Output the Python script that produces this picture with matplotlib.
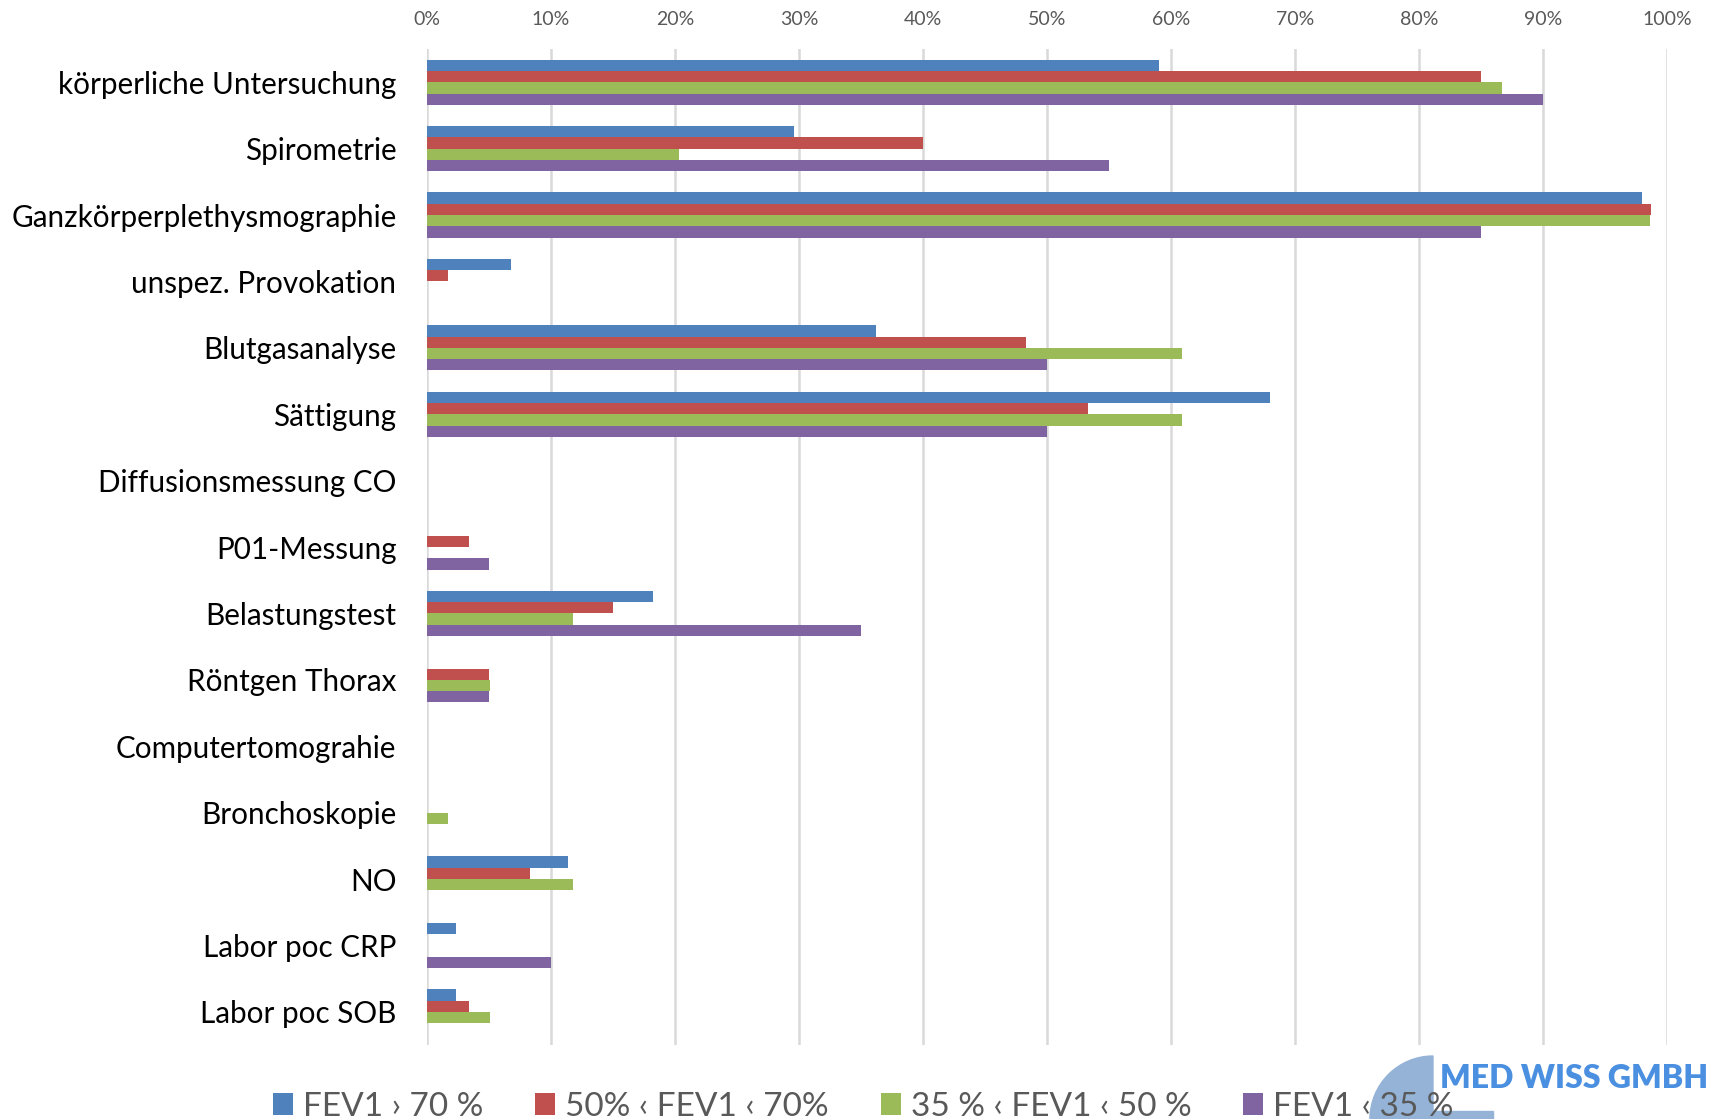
import matplotlib.pyplot as plt
import numpy as np
from matplotlib.patches import Wedge, Rectangle

# Untersuchungen (categories, top to bottom)
categories = [
    'körperliche Untersuchung', 'Spirometrie', 'Ganzkörperplethysmographie',
    'unspez. Provokation', 'Blutgasanalyse', 'Sättigung',
    'Diffusionsmessung CO', 'P01-Messung', 'Belastungstest',
    'Röntgen Thorax', 'Computertomograhie', 'Bronchoskopie', 'NO',
    'Labor poc CRP', 'Labor poc SOB',
]

# share of patients per FEV1 group (%)
fev_gt70 = [59.0, 29.6, 98.0, 6.8, 36.2, 68.0, 0, 0, 18.2, 0, 0, 0, 11.4, 2.3, 2.3]
fev_50_70 = [85.0, 40.0, 98.7, 1.7, 48.3, 53.3, 0, 3.4, 15.0, 5.0, 0, 0, 8.3, 0, 3.4]
fev_35_50 = [86.7, 20.3, 98.6, 0, 60.9, 60.9, 0, 0, 11.8, 5.1, 0, 1.7, 11.8, 0, 5.1]
fev_lt35 = [90.0, 55.0, 85.0, 0, 50.0, 50.0, 0, 5.0, 35.0, 5.0, 0, 0, 0, 10.0, 0]

series_labels = ['FEV1 \u203a 70 %', '50% \u2039 FEV1 \u2039 70%',
                 '35 % \u2039 FEV1 \u2039 50 %', 'FEV1 \u2039 35 %']
colors = ['#4F81BD', '#C0504D', '#9BBB59', '#8064A2']
xticks = np.arange(0, 101, 10)

plt.rcParams['font.family'] = ['Lato', 'DejaVu Sans']

fig = plt.figure(figsize=(17.13, 11.19), dpi=100)
ax = fig.add_axes([0.2493, 0.0661, 0.7238, 0.8901])

y = np.arange(len(categories))
h = 0.17
data = [fev_gt70, fev_50_70, fev_35_50, fev_lt35]
bars = []
for i, (vals, col, lab) in enumerate(zip(data, colors, series_labels)):
    b = ax.barh(y + (i - 1.5) * h, vals, height=h, color=col, label=lab,
                zorder=3, linewidth=0)
    bars.append(b)

ax.set_xlim(0, 100)
ax.set_ylim(len(categories) - 0.5, -0.5)
ax.set_xticks(xticks)
ax.set_xticklabels([f'{t}%' for t in xticks], fontsize=14, color='#595959')
ax.set_yticks(y)
ax.set_yticklabels(categories, fontsize=21.3, color='black')
ax.tick_params(axis='x', top=True, labeltop=True, bottom=False,
               labelbottom=False, length=0, pad=15)
ax.tick_params(axis='y', length=0, pad=22)
ax.grid(axis='x', color='#D9D9D9', linewidth=1.8, zorder=0)
ax.set_axisbelow(True)
for s in ax.spines.values():
    s.set_visible(False)

# logo shape behind the legend (coordinates in inches, 100 px per inch)
tr = fig.dpi_scale_trans
logo_blue = '#95B3D7'
fig.patches.append(Wedge((14.33, 0), 0.63, 90, 180, color=logo_blue,
                         transform=tr, zorder=1))
fig.patches.append(Rectangle((13.70, 0), 1.23, 0.08, color=logo_blue,
                             transform=tr, zorder=1))
fig.text(1440 / 1713, 1 - 1078 / 1119, 'MED WISS GMBH', fontsize=23,
         fontweight='heavy', color='#4A8FE0', va='center', ha='left',
         zorder=2)

leg = fig.legend(handles=bars, labels=series_labels, loc='center left',
                 bbox_to_anchor=(0.1595, 0.011), ncol=4, frameon=False,
                 fontsize=24, handlelength=0.6, handleheight=0.6,
                 handletextpad=0.3, columnspacing=1.55, borderpad=0,
                 borderaxespad=0)
for t in leg.get_texts():
    t.set_color('#595959')
leg.set_zorder(5)

fig.savefig('out.png', dpi=100)
